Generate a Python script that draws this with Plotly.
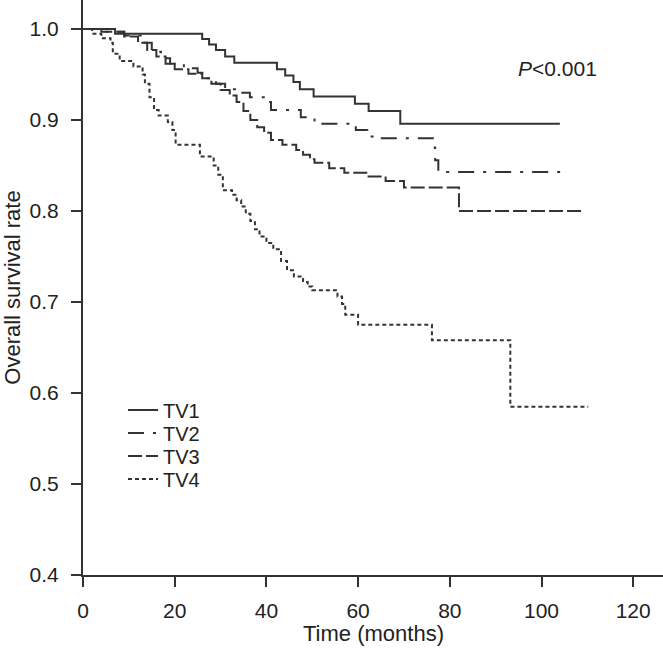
import plotly.graph_objects as go

# ---- data (Kaplan-Meier step points) ----
TV1_t = [0, 7, 26, 27.5, 29, 31, 33, 42.3, 44.1, 45.9, 47.3, 50.3, 59.3, 62.3, 69.2, 104]
TV1_s = [1.0, 0.995, 0.989, 0.983, 0.977, 0.970, 0.963, 0.956, 0.949, 0.942, 0.934, 0.926, 0.918, 0.910, 0.896, 0.896]

TV2_t = [0, 5, 9, 13, 15, 17, 19, 22, 25, 27, 29, 31, 34, 36.4, 40, 41, 47.5, 50.5, 59.5, 62, 63.5, 76.3, 76.8, 77.5, 106]
TV2_s = [1.0, 0.997, 0.993, 0.985, 0.975, 0.968, 0.962, 0.957, 0.952, 0.946, 0.940, 0.934, 0.930, 0.925, 0.920, 0.911, 0.903, 0.896, 0.889, 0.882, 0.880, 0.870, 0.856, 0.843, 0.843]

TV3_t = [0, 4, 9, 12, 14, 16, 18, 20, 23, 26, 28, 30, 32, 33.5, 35, 36.5, 38, 39.5, 41, 43.5, 46.5, 48, 49.5, 50.5, 53.7, 57, 62, 66, 70, 82, 109]
TV3_s = [1.0, 0.997, 0.992, 0.985, 0.977, 0.970, 0.962, 0.956, 0.951, 0.946, 0.940, 0.933, 0.927, 0.920, 0.910, 0.900, 0.892, 0.886, 0.878, 0.873, 0.867, 0.862, 0.857, 0.853, 0.847, 0.842, 0.838, 0.833, 0.826, 0.800, 0.800]

TV4_t = [0, 2, 4, 6, 6.5, 8, 11, 13, 13.5, 14.5, 15.5, 16.5, 18.5, 19.5, 20.2, 25.5, 28.5, 29.5, 30.5, 32.5, 33.5, 34.5, 35.5, 36.5, 37.5, 38.5, 40, 41.5, 43.2, 44.5, 46, 48, 49, 50, 55.5, 56.5, 57.2, 60, 76.1, 93.2, 110.2]
TV4_s = [1.0, 0.995, 0.990, 0.985, 0.973, 0.965, 0.959, 0.950, 0.940, 0.925, 0.911, 0.905, 0.898, 0.889, 0.873, 0.860, 0.850, 0.840, 0.823, 0.818, 0.812, 0.805, 0.797, 0.789, 0.780, 0.772, 0.765, 0.758, 0.745, 0.735, 0.728, 0.722, 0.717, 0.713, 0.706, 0.698, 0.686, 0.675, 0.658, 0.585, 0.585]

names = ["TV1", "TV2", "TV3", "TV4"]
times = [TV1_t, TV2_t, TV3_t, TV4_t]
surv = [TV1_s, TV2_s, TV3_s, TV4_s]
dashes = ["solid", "16px,9px,3px,9px", "14px,4px", "4px,3px"]

x_ticks = [0, 20, 40, 60, 80, 100, 120]
y_ticks = [0.4, 0.5, 0.6, 0.7, 0.8, 0.9, 1.0]

LINE = "#333333"
TEXT = "#222222"
FONT = "Arial, Liberation Sans, sans-serif"

fig = go.Figure()
legend_ids = ["legend", "legend2", "legend3", "legend4"]
for name, t, s, dash, lg in zip(names, times, surv, dashes, legend_ids):
    fig.add_trace(go.Scatter(
        x=t, y=s, mode="lines", name=name, legend=lg,
        line=dict(shape="hv", color=LINE, width=2, dash=dash),
    ))

fig.add_annotation(
    x=103.5, y=0.957, xref="x", yref="y",
    text="<i>P</i>&lt;0.001", showarrow=False,
    font=dict(family=FONT, size=21, color=TEXT),
)

# x-axis title as a text annotation so it sits fully inside the picture
fig.add_annotation(
    x=0.5, y=-0.101, xref="paper", yref="paper",
    xanchor="center", yanchor="middle",
    text="Time (months)", showarrow=False,
    font=dict(family=FONT, size=22, color=TEXT),
)

legend_rows_y = [0.2870, 0.2470, 0.2070, 0.1670]
legend_common = dict(x=0.069, xanchor="left", yanchor="middle",
                     bgcolor="rgba(0,0,0,0)",
                     font=dict(family=FONT, size=20, color=TEXT))

fig.update_layout(
    width=663, height=650,
    margin=dict(l=83, r=0, t=0, b=75),
    paper_bgcolor="white", plot_bgcolor="white",
    font=dict(family=FONT, size=21, color=TEXT),
    showlegend=True,
    legend=dict(y=legend_rows_y[0], **legend_common),
    legend2=dict(y=legend_rows_y[1], **legend_common),
    legend3=dict(y=legend_rows_y[2], **legend_common),
    legend4=dict(y=legend_rows_y[3], **legend_common),
)

fig.update_xaxes(
    range=[0, 126.5], tickvals=x_ticks,
    showline=True, linecolor=LINE, linewidth=2,
    ticks="outside", ticklen=10, tickwidth=2, tickcolor=LINE,
    showgrid=False, zeroline=False,
    ticklabelstandoff=6,
    tickfont=dict(size=21),
    automargin=False,
)
fig.update_yaxes(
    range=[0.4, 1.032], tickvals=y_ticks, tickformat=".1f",
    showline=True, linecolor=LINE, linewidth=2,
    ticks="outside", ticklen=10, tickwidth=2, tickcolor=LINE,
    showgrid=False, zeroline=False,
    ticklabelstandoff=8,
    tickfont=dict(size=21),
    automargin=False,
    title=dict(text="Overall survival rate", standoff=12, font=dict(size=22)),
)

fig.write_html(
    "out.html",
    config={"displayModeBar": False},
    post_script="document.body.style.margin='0';document.documentElement.style.overflow='hidden';",
)
